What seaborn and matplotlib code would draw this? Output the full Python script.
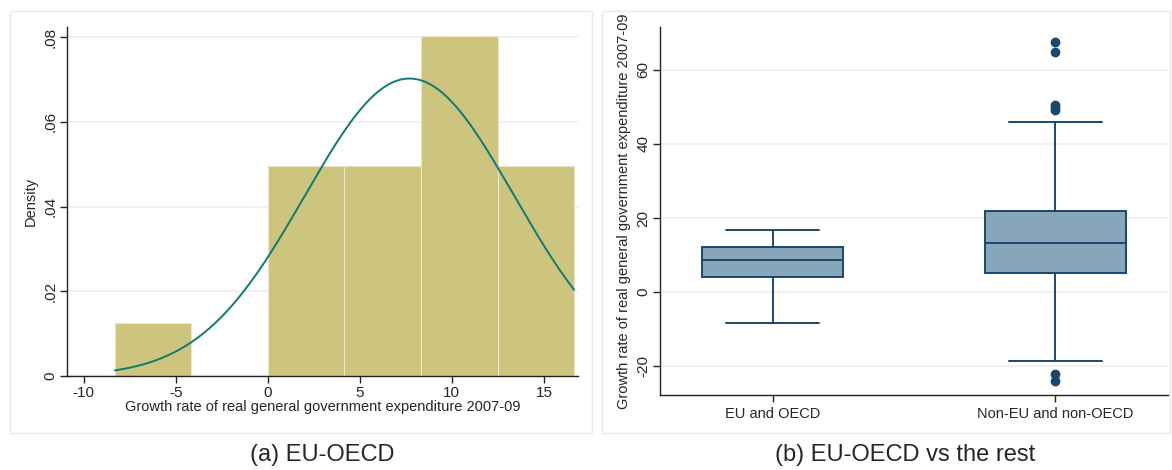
import numpy as np
import pandas as pd
import matplotlib
matplotlib.use("Agg")
import matplotlib.pyplot as plt
import seaborn as sns
from matplotlib.patches import Rectangle

# ---- data ----
# (a) histogram of EU-OECD growth rates (density scale) + fitted normal
bin_edges = [-8.3, -4.15, 0.0, 4.16, 8.32, 12.48, 16.64]
bin_density = [0.0125, 0.0, 0.0495, 0.0495, 0.0803, 0.0495]
norm_mean = 7.7
norm_sd = 5.68

# (b) box plot summary, EU-OECD vs the rest
groups = ["EU and OECD", "Non-EU and non-OECD"]
whisker_low = [-8.3, -18.5]
q1 = [4.0, 5.2]
median = [8.7, 13.3]
q3 = [12.2, 22.0]
whisker_high = [16.7, 45.9]
outliers = [[], [67.6, 64.8, 50.5, 49.8, 49.2, -22.1, -23.9]]

# ---- styling ----
sns.set_style("white")
plt.rcParams["font.family"] = ["Liberation Sans", "DejaVu Sans"]
plt.rcParams["axes.unicode_minus"] = False

bar_color = "#cdc47e"
line_color = "#0e7b72"
box_face = "#88a6ba"
box_edge = "#1a476f"
grid_color = "#e9f0f3"

fig = plt.figure(figsize=(11.72, 4.70), dpi=100)

# faint panel frames like the Stata graph regions
for x0, x1 in [(10, 592), (602, 1170)]:
    fig.patches.append(Rectangle((x0 / 1172, (470 - 433) / 470), (x1 - x0) / 1172, 422 / 470,
                                 transform=fig.transFigure, fill=False,
                                 edgecolor="#e4ecef", linewidth=1.0))

ax1 = fig.add_axes([67 / 1172, 94 / 470, 511 / 1172, 349 / 470])
ax2 = fig.add_axes([660 / 1172, 75 / 470, 508 / 1172, 368 / 470])

# ---- (a) histogram ----
bin_centers = [(a + b) / 2 for a, b in zip(bin_edges[:-1], bin_edges[1:])]
sns.histplot(x=bin_centers, weights=bin_density, bins=bin_edges, stat="count",
             color=bar_color, alpha=1, edgecolor="#ebe6c6", linewidth=0.8, ax=ax1)

xs = np.linspace(bin_edges[0], bin_edges[-1], 300)
ys = np.exp(-0.5 * ((xs - norm_mean) / norm_sd) ** 2) / (norm_sd * np.sqrt(2 * np.pi))
sns.lineplot(x=xs, y=ys, color=line_color, linewidth=1.4, ax=ax1)

ax1.set_xlim(-10.9, 16.85)
ax1.set_ylim(0, 0.0824)
ax1.set_xticks([-10, -5, 0, 5, 10, 15])
ax1.set_yticks([0, 0.02, 0.04, 0.06, 0.08])
ax1.set_yticklabels(["0", ".02", ".04", ".06", ".08"], rotation=90, va="center")
ax1.set_xlabel("Growth rate of real general government expenditure 2007-09", fontsize=10.5, labelpad=0)
ax1.set_ylabel("Density", fontsize=10.5, labelpad=4)

# ---- (b) box plot ----
stats = []
for i, g in enumerate(groups):
    stats.append(dict(label=g, whislo=whisker_low[i], q1=q1[i], med=median[i],
                      q3=q3[i], whishi=whisker_high[i], fliers=outliers[i]))
ax2.bxp(stats, positions=[0, 1], widths=0.5, capwidths=0.33, patch_artist=True,
        boxprops=dict(facecolor=box_face, edgecolor=box_edge, linewidth=1.4),
        medianprops=dict(color=box_edge, linewidth=1.4),
        whiskerprops=dict(color=box_edge, linewidth=1.4),
        capprops=dict(color=box_edge, linewidth=1.4),
        flierprops=dict(marker="o", markerfacecolor=box_edge, markeredgecolor=box_edge,
                        markersize=6))
ax2.set_xlim(-0.40, 1.40)
ax2.set_ylim(-27.8, 71.6)
ax2.set_yticks([-20, 0, 20, 40, 60])
ax2.set_yticklabels(["-20", "0", "20", "40", "60"], rotation=90, va="center")
ax2.set_ylabel("Growth rate of real general government expenditure 2007-09", fontsize=10.5, labelpad=4)

for ax in (ax1, ax2):
    ax.yaxis.grid(True, color=grid_color, linewidth=1.2)
    ax.xaxis.grid(False)
    ax.set_axisbelow(True)
    for s in ["top", "right"]:
        ax.spines[s].set_visible(False)
    for s in ["left", "bottom"]:
        ax.spines[s].set_color("#222222")
        ax.spines[s].set_linewidth(1.0)
    ax.tick_params(axis="both", direction="out", length=5, width=1, color="#222222",
                   labelsize=11, pad=2, left=True, bottom=True)

ax2.tick_params(axis="x", length=5, pad=4, labelsize=10.5)

fig.text(322 / 1172, 1 - 455 / 470, "(a) EU-OECD", ha="center", va="center", fontsize=17)
fig.text(905 / 1172, 1 - 455 / 470, "(b) EU-OECD vs the rest", ha="center", va="center", fontsize=17)

fig.savefig("out.png", dpi=100)
